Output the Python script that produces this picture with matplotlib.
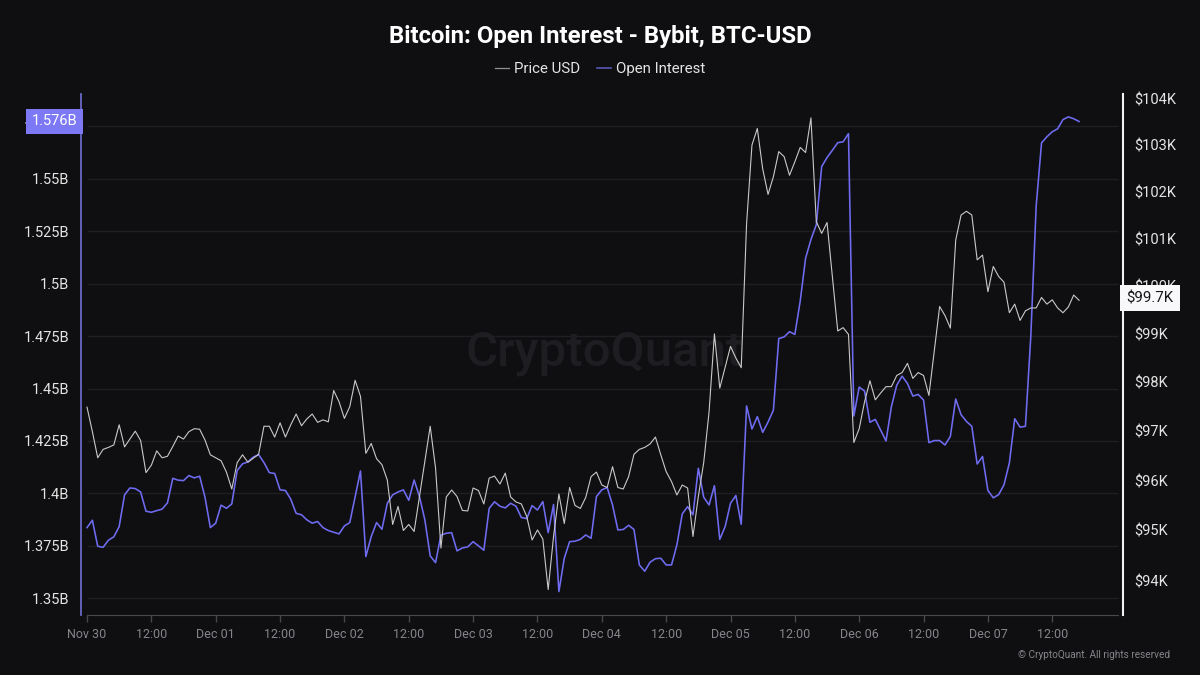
import numpy as np
import pandas as pd
import matplotlib
matplotlib.use("Agg")
import matplotlib.pyplot as plt
from matplotlib.lines import Line2D
from matplotlib.ticker import NullLocator, NullFormatter
from matplotlib.transforms import blended_transform_factory

plt.rcParams["font.family"] = ["Roboto", "DejaVu Sans"]

# hourly price, $K
price_usd = [
    97.49, 96.99, 96.46, 96.63, 96.67, 96.72, 97.13, 96.68, 96.84, 97.00, 96.81, 96.16,
    96.31, 96.60, 96.46, 96.49, 96.69, 96.90, 96.84, 96.99, 97.05, 97.04, 96.82, 96.52,
    96.46, 96.40, 96.17, 95.83, 96.36, 96.52, 96.37, 96.45, 96.53, 97.10, 97.10, 96.88,
    97.17, 96.88, 97.13, 97.35, 97.11, 97.25, 97.35, 97.18, 97.23, 97.19, 97.83, 97.60,
    97.26, 97.50, 98.04, 97.71, 96.55, 96.75, 96.44, 96.32, 96.01, 95.12, 95.48, 95.00,
    95.12, 94.98, 95.68, 96.38, 97.10, 96.25, 94.65, 95.67, 95.81, 95.68, 95.40, 95.39,
    95.85, 95.80, 95.53, 96.05, 96.09, 95.93, 96.15, 95.67, 95.57, 95.53, 95.28, 94.81,
    95.01, 94.83, 93.83, 94.88, 95.73, 95.14, 95.86, 95.50, 95.44, 95.66, 96.08, 96.17,
    95.91, 95.86, 96.28, 95.86, 95.83, 96.08, 96.53, 96.63, 96.67, 96.74, 96.88, 96.52,
    96.18, 95.98, 95.71, 95.91, 95.85, 94.88, 95.68, 96.36, 97.39, 99.00, 97.88, 98.31,
    98.74, 98.50, 98.30, 101.32, 103.00, 103.36, 102.49, 101.94, 102.32, 102.86, 102.75, 102.35,
    102.64, 102.95, 102.84, 103.59, 101.36, 101.11, 101.34, 100.20, 99.06, 99.13, 98.99, 96.77,
    97.05, 97.60, 98.03, 97.64, 97.78, 97.91, 97.91, 98.14, 98.20, 98.39, 98.08, 98.20,
    98.14, 97.73, 98.65, 99.57, 99.38, 99.12, 100.97, 101.50, 101.58, 101.50, 100.55, 100.65,
    99.88, 100.41, 100.20, 100.08, 99.44, 99.62, 99.28, 99.48, 99.54, 99.54, 99.76, 99.62,
    99.71, 99.54, 99.44, 99.56, 99.81, 99.70,
]

# hourly open interest, $B
open_interest = [
    1.3837, 1.3872, 1.3748, 1.3743, 1.3777, 1.3793, 1.3842, 1.3993, 1.4026, 1.4023, 1.4007, 1.3915,
    1.3910, 1.3918, 1.3925, 1.3955, 1.4072, 1.4063, 1.4061, 1.4085, 1.4074, 1.4082, 1.3982, 1.3837,
    1.3858, 1.3944, 1.3929, 1.3950, 1.4109, 1.4141, 1.4150, 1.4173, 1.4185, 1.4147, 1.4099, 1.4095,
    1.4017, 1.4014, 1.3972, 1.3905, 1.3898, 1.3874, 1.3858, 1.3866, 1.3837, 1.3823, 1.3815, 1.3807,
    1.3845, 1.3861, 1.3985, 1.4107, 1.3699, 1.3794, 1.3861, 1.3829, 1.3953, 1.3993, 1.4007, 1.4017,
    1.3967, 1.4064, 1.3985, 1.3874, 1.3702, 1.3670, 1.3801, 1.3810, 1.3813, 1.3726, 1.3740, 1.3745,
    1.3770, 1.3750, 1.3729, 1.3929, 1.3960, 1.3939, 1.3931, 1.3953, 1.3939, 1.3885, 1.3880, 1.3942,
    1.3921, 1.3961, 1.3813, 1.3947, 1.3532, 1.3691, 1.3770, 1.3772, 1.3781, 1.3802, 1.3786, 1.3985,
    1.4017, 1.4028, 1.3945, 1.3826, 1.3828, 1.3848, 1.3828, 1.3659, 1.3629, 1.3672, 1.3689, 1.3691,
    1.3659, 1.3659, 1.3754, 1.3902, 1.3937, 1.3898, 1.4120, 1.3982, 1.3945, 1.4037, 1.3781, 1.3842,
    1.3953, 1.3990, 1.3853, 1.4417, 1.4307, 1.4366, 1.4291, 1.4340, 1.4397, 1.4738, 1.4746, 1.4771,
    1.4758, 1.4917, 1.5121, 1.5210, 1.5281, 1.5558, 1.5601, 1.5636, 1.5672, 1.5676, 1.5715, 1.4369,
    1.4507, 1.4488, 1.4339, 1.4353, 1.4302, 1.4250, 1.4413, 1.4516, 1.4559, 1.4524, 1.4464, 1.4472,
    1.4445, 1.4242, 1.4252, 1.4252, 1.4231, 1.4272, 1.4450, 1.4375, 1.4343, 1.4320, 1.4140, 1.4176,
    1.4014, 1.3979, 1.3994, 1.4041, 1.4145, 1.4356, 1.4316, 1.4320, 1.4749, 1.5369, 1.5671, 1.5700,
    1.5724, 1.5738, 1.5782, 1.5795, 1.5786, 1.5773,
]

oi_ticks = [1.35, 1.375, 1.4, 1.425, 1.45, 1.475, 1.5, 1.525, 1.55, 1.575]
oi_tick_labels = ["1.35B", "1.375B", "1.4B", "1.425B", "1.45B", "1.475B", "1.5B", "1.525B", "1.55B", "1.575B"]
price_ticks = [94, 95, 96, 97, 98, 99, 100, 101, 102, 103, 104]
price_tick_labels = ["$94K", "$95K", "$96K", "$97K", "$98K", "$99K", "$100K", "$101K", "$102K", "$103K", "$104K"]
date_tick_labels = ["Nov 30", "12:00", "Dec 01", "12:00", "Dec 02", "12:00", "Dec 03", "12:00",
                    "Dec 04", "12:00", "Dec 05", "12:00", "Dec 06", "12:00", "Dec 07", "12:00"]

BG = "#0f0f11"
OI_COLOR = "#6f6cf2"
PRICE_COLOR = "#c9c9c9"
W, H = 1200, 675

times = pd.date_range("2024-11-30 00:00", periods=len(price_usd), freq="h")
date_ticks = pd.date_range("2024-11-30 00:00", periods=len(date_tick_labels), freq="12h")
x_end = times[0] + pd.Timedelta(hours=192.2)

fig = plt.figure(figsize=(12, 6.75), dpi=100, facecolor=BG)
ax = fig.add_axes([81 / W, 1 - 615 / H, (1122.5 - 81) / W, (615 - 94) / H], facecolor=BG)

ax.hlines(oi_ticks, times[0], x_end, color="#1f1f23", lw=1, zorder=1)
ax.text(604 / W, 1 - 353 / H, "CryptoQuant", transform=fig.transFigure, color="#1e1e22", fontsize=35.5,
        fontweight="medium", ha="center", va="center", zorder=0.5)
ax.plot(times, open_interest, color=OI_COLOR, lw=1.15, zorder=3)

ax.set_xlim(times[0] - pd.Timedelta(hours=1.12), times[0] + pd.Timedelta(hours=193.1))
ax.set_ylim(1.34204, 1.5904)
ax.set_yticks(oi_ticks)
ax.set_yticklabels(oi_tick_labels)
ax.set_xticks(date_ticks)
ax.set_xticklabels(date_tick_labels)
ax.tick_params(axis="y", length=0, pad=8.6, labelsize=10.5, labelcolor="#e4e4e4")
ax.tick_params(axis="x", length=5, width=1, color="#47474c", pad=4, labelsize=9, labelcolor="#85858b")

for side in ["top", "right"]:
    ax.spines[side].set_visible(False)
ax.spines["left"].set_color("#6a68c4")
ax.spines["left"].set_linewidth(1.3)
ax.spines["bottom"].set_color("#47474c")
ax.spines["bottom"].set_bounds(matplotlib.dates.date2num(times[0]), matplotlib.dates.date2num(x_end))

ax2 = ax.twinx()
ax2.plot(times, price_usd, color=PRICE_COLOR, lw=0.8, zorder=3)
ax2.set_yscale("log")
ax2.set_ylim(93.33, 104.11)
ax2.set_yticks(price_ticks)
ax2.set_yticklabels(price_tick_labels)
ax2.yaxis.set_minor_locator(NullLocator())
ax2.yaxis.set_minor_formatter(NullFormatter())
ax2.tick_params(axis="y", length=0, pad=8.6, labelsize=10.5, labelcolor="#e4e4e4")
for side in ["top", "left", "bottom"]:
    ax2.spines[side].set_visible(False)
ax2.spines["right"].set_color("#f2f2f2")
ax2.spines["right"].set_linewidth(1.5)

# last value tags sit on top of the axis labels
left_tf = blended_transform_factory(fig.transFigure, ax.transData)
right_tf = blended_transform_factory(fig.transFigure, ax2.transData)
ax.text(77 / W, open_interest[-1] + 0.0002, "1.576B", transform=left_tf, ha="right", va="center",
        color="white", fontsize=10.5, zorder=10, clip_on=False,
        bbox=dict(boxstyle="square,pad=0.38", fc="#7d79f5", ec="none"))
ax2.text(1173.5 / W, price_usd[-1] + 0.04, "$99.7K", transform=right_tf, ha="right", va="center",
         color="#17171a", fontsize=10.8, zorder=10, clip_on=False,
         bbox=dict(boxstyle="square,pad=0.4", fc="#f8f8fb", ec="none"))

fig.text(0.5, 1 - 36 / H, "Bitcoin: Open Interest - Bybit, BTC-USD", color="white",
         fontsize=17.2, fontweight="bold", ha="center", va="center")

handles = [Line2D([], [], color="#8f8f8f", lw=0.9), Line2D([], [], color="#5f5dc0", lw=1.1)]
fig.legend(handles, ["Price USD", "Open Interest"], ncol=2, loc="center",
           bbox_to_anchor=(0.5, 1 - 69 / H), frameon=False, fontsize=10.8, labelcolor="#e4e4e4",
           handlelength=0.95, handletextpad=0.35, columnspacing=1.1)

fig.text(1170 / W, 1 - 655 / H, "© CryptoQuant. All rights reserved", color="#85858b",
         fontsize=7.2, ha="right", va="center")

fig.savefig("out.png", dpi=100, facecolor=BG)
